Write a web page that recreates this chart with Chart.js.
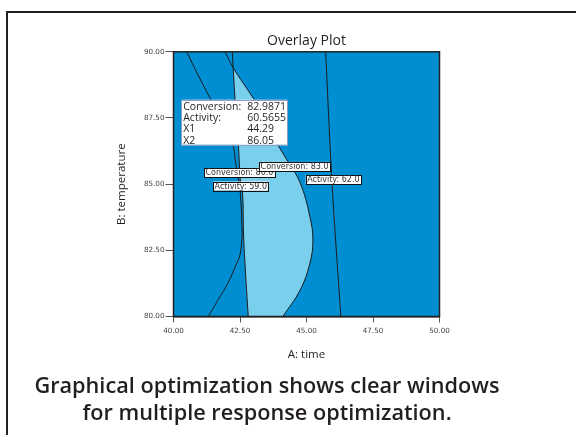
<!DOCTYPE html>
<html>
<head>
<meta charset="utf-8">
<script src="https://cdn.jsdelivr.net/npm/chart.js@4"></script>
<style>
  html, body { margin: 0; padding: 0; background: #fff; }
  #wrap { position: relative; width: 576px; height: 435px; overflow: hidden; }
  #frame { position: absolute; left: 6px; top: 11px; right: -4px; bottom: -4px; border-left: 2px solid #231f20; border-top: 2px solid #231f20; }
  #chart { position: absolute; left: 0; top: 0; }
  #caption { position: absolute; left: 0; width: 534px; top: 371px; text-align: center;
    font-family: 'Open Sans'; font-weight: 600; font-size: 21.7px; line-height: 27px; color: #231f20; }
</style>
</head>
<body>
<div id="wrap">
  <div id="frame"></div>
  <canvas id="chart" width="576" height="435"></canvas>
  <div id="caption">Graphical optimization shows clear windows<br>for multiple response optimization.</div>
</div>
<script>
// axes
const xTicks = [40, 42.5, 45, 47.5, 50];
const yTicks = [80, 82.5, 85, 87.5, 90];

// contour: Conversion = 80
const conv80X = [40.50, 40.92, 41.37, 41.82, 42.19, 42.35, 42.50, 42.58, 42.57, 42.50, 42.35, 42.05, 41.67, 41.31];
const conv80Y = [90.00, 89.13, 88.26, 87.35, 86.67, 85.72, 84.78, 83.19, 82.89, 82.33, 81.95, 81.27, 80.62, 80.00];

// contour: Conversion = 83
const conv83X = [41.94, 42.24, 42.99, 43.25, 43.70, 44.26, 44.76, 45.13, 45.24, 45.13, 44.76, 44.11];
const conv83Y = [90.00, 89.40, 88.26, 87.81, 86.87, 85.92, 85.05, 83.76, 82.89, 82.02, 81.00, 80.00];

// contour: Activity = 59
const act59X = [42.21, 42.31, 42.44, 42.52, 42.60, 42.63, 42.69, 42.81];
const act59Y = [90.00, 88.26, 86.48, 85.05, 84.59, 83.19, 81.95, 80.00];

// contour: Activity = 62
const act62X = [45.72, 45.96, 46.29];
const act62Y = [90.00, 85.05, 80.00];

// where Conversion 83 meets Activity 59 (top of the sweet spot)
const sweetTopY = 89.40;

// contour labels
const contourLabels = ['Conversion: 80.0', 'Conversion: 83.0', 'Activity: 59.0', 'Activity: 62.0'];
const contourLabelX = [42.48, 44.55, 42.53, 46.01];
const contourLabelY = [85.43, 85.67, 84.93, 85.16];

// flag box
const flagNames = ['Conversion:', 'Activity:', 'X1', 'X2'];
const flagValues = ['82.9871', '60.5655', '44.29', '86.05'];
const flagX = 40.29, flagY = 88.19;

const DARK = 'rgb(0,142,211)';
const LIGHT = 'rgb(122,207,237)';
const INK = '#231f20';

const pts = (xs, ys) => xs.map((x, i) => ({ x: x, y: ys[i] }));

const contour = (xs, ys) => ({
  data: pts(xs, ys),
  showLine: true,
  borderColor: '#1b1b1b',
  borderWidth: 1,
  pointRadius: 0,
  tension: 0.4,
  fill: false
});

const paintPlot = {
  id: 'paintPlot',
  beforeDatasetsDraw(chart) {
    const { ctx, chartArea: a, scales } = chart;
    ctx.save();
    ctx.fillStyle = DARK;
    ctx.fillRect(a.left, a.top, a.right - a.left, a.bottom - a.top);

    // light area between the Conversion 83 and Activity 59 curves
    const c83 = chart.getDatasetMeta(1).dataset;
    const a59 = chart.getDatasetMeta(2).dataset;
    const yTop = scales.y.getPixelForValue(sweetTopY);
    ctx.beginPath();
    ctx.rect(a.left, yTop, a.right - a.left, a.bottom - yTop);
    ctx.clip();
    ctx.beginPath();
    c83.pathSegment(ctx, c83.segments[0], { move: true });
    a59.pathSegment(ctx, a59.segments[0], { move: false, reverse: true });
    ctx.closePath();
    ctx.fillStyle = LIGHT;
    ctx.fill();
    ctx.restore();
  },
  afterDatasetsDraw(chart) {
    const { ctx, chartArea: a, scales } = chart;
    ctx.save();
    ctx.strokeStyle = INK;
    ctx.lineWidth = 1.5;
    ctx.strokeRect(a.left, a.top, a.right - a.left, a.bottom - a.top);

    // contour labels
    ctx.font = '8px "DejaVu Sans"';
    ctx.textAlign = 'center';
    ctx.textBaseline = 'middle';
    contourLabels.forEach((t, i) => {
      const cx = scales.x.getPixelForValue(contourLabelX[i]);
      const cy = scales.y.getPixelForValue(contourLabelY[i]);
      const w = ctx.measureText(t).width + 3;
      const h = 9;
      ctx.fillStyle = '#fff';
      ctx.fillRect(cx - w / 2, cy - h / 2, w, h);
      ctx.strokeStyle = '#111';
      ctx.lineWidth = 1;
      ctx.strokeRect(Math.round(cx - w / 2) + 0.5, Math.round(cy - h / 2) + 0.5, Math.round(w), h);
      ctx.fillStyle = '#333';
      ctx.fillText(t, cx, cy + 0.5);
    });

    // flag box
    const fx = scales.x.getPixelForValue(flagX);
    const fy = scales.y.getPixelForValue(flagY);
    ctx.fillStyle = '#fff';
    ctx.fillRect(fx, fy, 106, 45);
    ctx.strokeStyle = '#8b9cc4';
    ctx.strokeRect(Math.round(fx) + 0.5, Math.round(fy) + 0.5, 106, 45);
    ctx.fillStyle = INK;
    ctx.font = '10.5px "Open Sans"';
    ctx.textAlign = 'left';
    flagNames.forEach((n, i) => {
      const y = fy + 7 + i * 11.3;
      ctx.fillText(n, fx + 2, y);
      ctx.fillText(flagValues[i], fx + 66, y);
    });
    ctx.restore();
  }
};

new Chart(document.getElementById('chart'), {
  type: 'scatter',
  data: {
    datasets: [
      contour(conv80X, conv80Y),
      contour(conv83X, conv83Y),
      contour(act59X, act59Y),
      contour(act62X, act62Y)
    ]
  },
  options: {
    responsive: false,
    animation: false,
    events: [],
    layout: { padding: { left: 100, right: 136.5, top: 31, bottom: 73.5 } },
    plugins: {
      legend: { display: false },
      tooltip: { enabled: false },
      title: {
        display: true,
        text: 'Overlay Plot',
        fullSize: false,
        color: INK,
        font: { family: 'Open Sans', size: 14, weight: 'normal' },
        padding: { top: 2, bottom: 2 }
      }
    },
    scales: {
      x: {
        type: 'linear',
        min: 40,
        max: 50,
        afterBuildTicks: s => { s.ticks = xTicks.map(v => ({ value: v })); },
        afterFit: s => { s.height = 45; },
        ticks: {
          callback: v => v.toFixed(2),
          color: '#444',
          font: { family: 'DejaVu Sans', size: 7.2 },
          padding: 4,
          maxRotation: 0
        },
        grid: { drawOnChartArea: false, tickLength: 6, color: '#555' },
        border: { color: INK, width: 1.5 },
        title: {
          display: true,
          text: 'A: time',
          color: INK,
          font: { family: 'Open Sans', size: 11.5 },
          padding: { top: 0, bottom: 0 }
        }
      },
      y: {
        type: 'linear',
        min: 80,
        max: 90,
        afterBuildTicks: s => { s.ticks = yTicks.map(v => ({ value: v })); },
        afterFit: s => { s.width = 73.5; },
        ticks: {
          callback: v => v.toFixed(2),
          color: '#444',
          font: { family: 'DejaVu Sans', size: 7.2 },
          padding: 1
        },
        grid: { drawOnChartArea: false, tickLength: 8, color: '#555' },
        border: { color: INK, width: 1.5 },
        title: {
          display: true,
          text: 'B: temperature',
          color: INK,
          font: { family: 'Open Sans', size: 11.5 },
          padding: { top: 15, bottom: 0 }
        }
      }
    }
  },
  plugins: [paintPlot]
});
</script>
</body>
</html>
